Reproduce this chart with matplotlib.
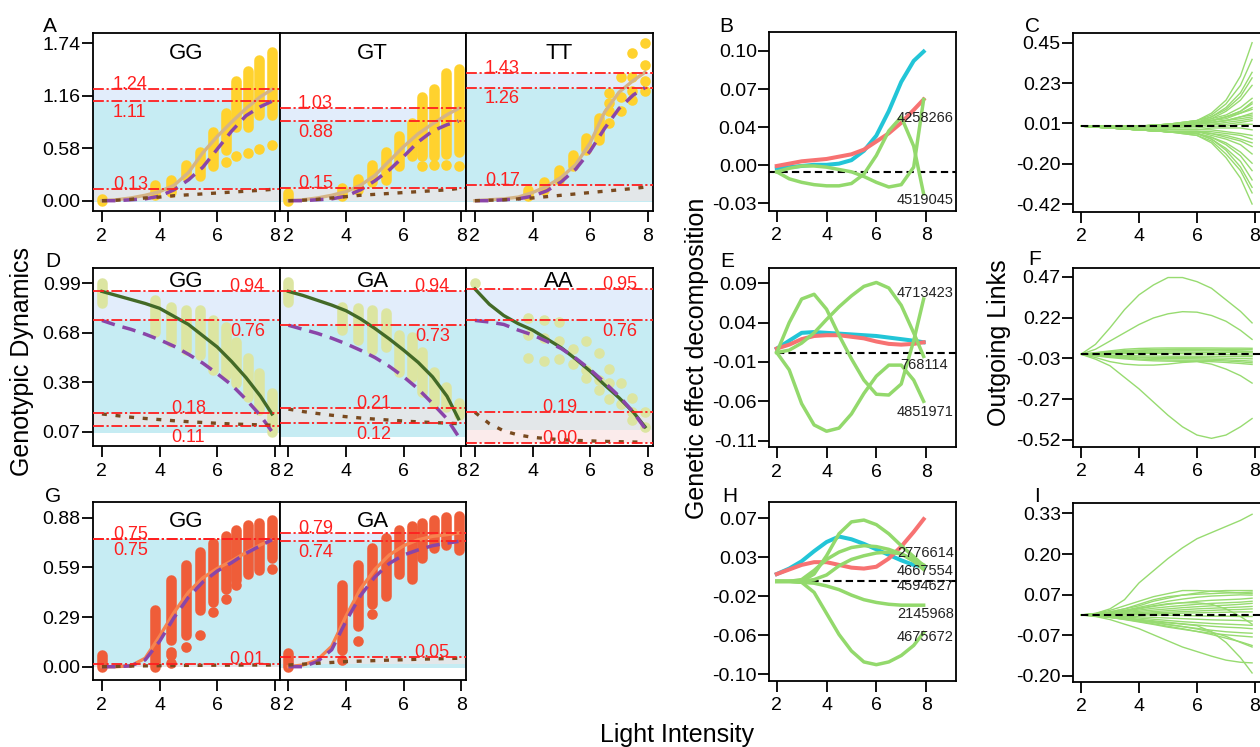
import matplotlib
matplotlib.use('Agg')
import matplotlib.pyplot as plt

plt.rcParams['font.family'] = ['Liberation Sans', 'DejaVu Sans']

W, H = 1260, 747

# light intensity: grid of the fitted curves, measured levels, and grid of the thin link curves
xc = [2.0, 2.5, 3.0, 3.5, 4.0, 4.5, 5.0, 5.5, 6.0, 6.5, 7.0, 7.5, 7.9]
xp = [2.0, 3.85, 4.4, 4.9, 5.4, 5.85, 6.3, 6.65, 7.05, 7.45, 7.9]
xs = [2.0, 3.0, 4.0, 5.0, 6.0, 6.5, 7.0, 7.5, 7.9]

# ---- A : GG / GT / TT ----
a_gg_lo = [0.00, 0.06, 0.10, 0.27, 0.27, 0.38, 0.56, 0.82, 0.82, 0.95, 0.95]
a_gg_hi = [0.02, 0.17, 0.23, 0.40, 0.54, 0.76, 0.97, 1.32, 1.43, 1.56, 1.64]
a_gg_dx = [6.3, 6.65, 7.05, 7.45, 7.9]
a_gg_dy = [0.43, 0.49, 0.53, 0.57, 0.62]
a_gg_tot = [0.0, 0.01, 0.03, 0.06, 0.10, 0.17, 0.31, 0.53, 0.71, 0.87, 1.02, 1.15, 1.23]
a_gg_add = [0.0, 0.0, 0.01, 0.02, 0.05, 0.12, 0.23, 0.37, 0.57, 0.77, 0.94, 1.04, 1.10]
a_gg_dom = [0.0, 0.005, 0.015, 0.03, 0.04, 0.055, 0.065, 0.075, 0.085, 0.095, 0.105, 0.115, 0.125]
a_gg_ref = [1.235, 1.105, 0.13]
a_gg_txt = ['1.24', '1.11', '0.13']

a_gt_lo = [0.00, 0.05, 0.12, 0.21, 0.23, 0.38, 0.49, 0.49, 0.49, 0.52, 0.54]
a_gt_hi = [0.08, 0.14, 0.24, 0.39, 0.54, 0.71, 0.86, 1.15, 1.24, 1.41, 1.46]
a_gt_dx = [6.65, 7.05, 7.45, 7.9]
a_gt_dy = [0.38, 0.39, 0.40, 0.38]
a_gt_tot = [0.0, 0.01, 0.03, 0.06, 0.10, 0.17, 0.28, 0.44, 0.60, 0.74, 0.85, 0.95, 1.02]
a_gt_add = [0.0, 0.0, 0.01, 0.02, 0.05, 0.12, 0.22, 0.34, 0.49, 0.65, 0.77, 0.84, 0.88]
a_gt_dom = [0.0, 0.005, 0.015, 0.03, 0.045, 0.06, 0.07, 0.08, 0.09, 0.10, 0.11, 0.12, 0.135]
a_gt_ref = [1.025, 0.88, 0.145]
a_gt_txt = ['1.03', '0.88', '0.15']

a_tt_lo = [0.00, 0.05, 0.12, 0.23, 0.38, 0.56, 0.67]
a_tt_hi = [0.00, 0.12, 0.21, 0.34, 0.51, 0.69, 0.91]
a_tt_dx = [6.65, 6.65, 6.65, 6.65, 7.05, 7.05, 7.05, 7.45, 7.45, 7.45, 7.45, 7.9, 7.9, 7.9, 7.9]
a_tt_dy = [0.86, 0.99, 1.08, 1.19, 0.99, 1.15, 1.37, 1.11, 1.21, 1.37, 1.63, 1.21, 1.32, 1.50, 1.74]
a_tt_tot = [0.0, 0.01, 0.02, 0.04, 0.09, 0.16, 0.26, 0.40, 0.64, 0.98, 1.20, 1.33, 1.42]
a_tt_add = [0.0, 0.0, 0.01, 0.02, 0.05, 0.11, 0.21, 0.35, 0.55, 0.80, 1.02, 1.17, 1.25]
a_tt_dom = [0.0, 0.005, 0.01, 0.02, 0.03, 0.045, 0.06, 0.075, 0.09, 0.105, 0.12, 0.135, 0.15]
a_tt_ref = [1.415, 1.25, 0.17]
a_tt_txt = ['1.43', '1.26', '0.17']

# ---- D : GG / GA / AA ----
d_gg_lo = [0.866, 0.691, 0.629, 0.577, 0.546, 0.453, 0.422, 0.370, 0.288, 0.205, 0.071]
d_gg_hi = [0.990, 0.887, 0.845, 0.825, 0.825, 0.763, 0.722, 0.629, 0.525, 0.432, 0.308]
d_gg_tot = [0.94, 0.915, 0.89, 0.865, 0.835, 0.785, 0.735, 0.665, 0.595, 0.505, 0.405, 0.29, 0.18]
d_gg_add = [0.76, 0.73, 0.705, 0.675, 0.64, 0.60, 0.55, 0.495, 0.43, 0.36, 0.27, 0.17, 0.07]
d_gg_dom = [0.18, 0.17, 0.16, 0.152, 0.145, 0.138, 0.132, 0.127, 0.122, 0.118, 0.115, 0.112, 0.11]
d_gg_ref = [0.942, 0.76, 0.184, 0.107]
d_gg_txt = ['0.94', '0.76', '0.18', '0.11']

d_ga_lo = [0.876, 0.70, 0.64, 0.577, 0.598, 0.44, 0.41, 0.319, 0.247, 0.226, 0.174]
d_ga_hi = [1.00, 0.845, 0.835, 0.825, 0.804, 0.67, 0.66, 0.567, 0.443, 0.35, 0.247]
d_ga_tot = [0.94, 0.915, 0.885, 0.855, 0.82, 0.77, 0.71, 0.645, 0.575, 0.50, 0.41, 0.29, 0.15]
d_ga_add = [0.73, 0.705, 0.68, 0.65, 0.615, 0.575, 0.53, 0.475, 0.41, 0.335, 0.245, 0.15, 0.04]
d_ga_dom = [0.21, 0.195, 0.183, 0.172, 0.163, 0.155, 0.148, 0.142, 0.136, 0.131, 0.127, 0.123, 0.12]
d_ga_ref = [0.942, 0.733, 0.215, 0.122]
d_ga_txt = ['0.94', '0.73', '0.21', '0.12']

d_aa_dx = [2.0, 3.85, 3.85, 3.85, 4.4, 4.4, 4.4, 4.9, 4.9, 4.9, 5.4, 5.4, 5.85, 5.85, 5.85,
           6.3, 6.3, 6.3, 6.65, 6.65, 6.65, 7.05, 7.05, 7.45, 7.45, 7.45, 7.9, 7.9]
d_aa_dy = [0.99, 0.773, 0.67, 0.53, 0.763, 0.65, 0.51, 0.75, 0.63, 0.52, 0.58, 0.49, 0.63, 0.45, 0.40,
           0.56, 0.39, 0.33, 0.46, 0.37, 0.27, 0.37, 0.24, 0.28, 0.19, 0.14, 0.19, 0.10]
d_aa_tot = [0.955, 0.86, 0.79, 0.74, 0.70, 0.645, 0.59, 0.52, 0.445, 0.36, 0.28, 0.19, 0.10]
d_aa_add = [0.76, 0.75, 0.735, 0.70, 0.67, 0.63, 0.585, 0.525, 0.455, 0.375, 0.29, 0.19, 0.09]
d_aa_dom = [0.19, 0.12, 0.075, 0.05, 0.035, 0.027, 0.02, 0.016, 0.013, 0.01, 0.008, 0.006, 0.005]
d_aa_ref = [0.955, 0.762, 0.19, 0.0]
d_aa_txt = ['0.95', '0.76', '0.19', '0.00']

# ---- G : GG / GA ----
g_gg_lo = [0.0, 0.0, 0.158, 0.19, 0.335, 0.38, 0.46, 0.51, 0.55, 0.57, 0.64]
g_gg_hi = [0.07, 0.335, 0.512, 0.60, 0.68, 0.73, 0.77, 0.81, 0.84, 0.85, 0.865]
g_gg_dx = [4.4, 4.4, 4.4, 4.9, 5.4, 5.85, 6.3, 6.65, 7.9]
g_gg_dy = [0.088, 0.069, 0.02, 0.118, 0.19, 0.325, 0.40, 0.48, 0.58]
g_gg_tot = [0.0, 0.0, 0.005, 0.05, 0.18, 0.32, 0.44, 0.525, 0.58, 0.625, 0.675, 0.72, 0.75]
g_gg_add = [0.0, 0.0, 0.005, 0.04, 0.15, 0.29, 0.41, 0.50, 0.565, 0.615, 0.67, 0.715, 0.75]
g_gg_dom = [0.0, 0.002, 0.004, 0.005, 0.006, 0.007, 0.008, 0.008, 0.009, 0.009, 0.01, 0.01, 0.01]
g_gg_ref = [0.752, 0.752, 0.015]
g_gg_txt = ['0.75', '0.75', '0.01']

g_ga_lo = [0.0, 0.099, 0.24, 0.37, 0.42, 0.55, 0.52, 0.64, 0.70, 0.72, 0.69]
g_ga_hi = [0.08, 0.483, 0.60, 0.70, 0.76, 0.81, 0.83, 0.85, 0.865, 0.885, 0.89]
g_ga_dx = [3.85, 4.4, 4.9]
g_ga_dy = [0.04, 0.152, 0.31]
g_ga_tot = [0.0, 0.01, 0.04, 0.12, 0.30, 0.46, 0.575, 0.66, 0.715, 0.75, 0.77, 0.78, 0.79]
g_ga_add = [0.0, 0.0, 0.03, 0.10, 0.27, 0.42, 0.53, 0.61, 0.66, 0.69, 0.715, 0.73, 0.74]
g_ga_dom = [0.01, 0.015, 0.02, 0.025, 0.03, 0.033, 0.036, 0.039, 0.041, 0.044, 0.046, 0.048, 0.05]
g_ga_ref = [0.79, 0.742, 0.058]
g_ga_txt = ['0.79', '0.74', '0.05']

# ---- B, E, H : genetic effect decomposition ----
b_cyan = [0.003, 0.004, 0.005, 0.006, 0.006, 0.007, 0.010, 0.018, 0.031, 0.052, 0.077, 0.095, 0.103]
b_red = [0.005, 0.007, 0.009, 0.010, 0.011, 0.013, 0.015, 0.019, 0.026, 0.033, 0.042, 0.053, 0.062]
b_snp1 = [0.0, 0.003, 0.005, 0.005, 0.004, 0.002, 0.0, -0.004, -0.009, -0.013, -0.011, 0.004, 0.062]
b_snp2 = [0.0, -0.006, -0.009, -0.011, -0.012, -0.012, -0.010, -0.002, 0.014, 0.035, 0.047, 0.022, -0.019]
b_names = ['4258266', '4519045']
b_name_y = [0.046, -0.024]

e_cyan = [0.005, 0.015, 0.025, 0.026, 0.025, 0.024, 0.023, 0.022, 0.021, 0.019, 0.017, 0.015, 0.013]
e_red = [0.005, 0.010, 0.017, 0.021, 0.022, 0.022, 0.020, 0.018, 0.014, 0.011, 0.010, 0.011, 0.013]
e_snp1 = [0.0, 0.038, 0.068, 0.074, 0.055, 0.022, -0.008, -0.035, -0.053, -0.054, -0.04, 0.015, 0.068]
e_snp2 = [0.0, 0.003, 0.012, 0.025, 0.042, 0.058, 0.072, 0.084, 0.089, 0.082, 0.06, 0.025, -0.005]
e_snp3 = [0.0, -0.022, -0.065, -0.092, -0.10, -0.096, -0.078, -0.052, -0.03, -0.016, -0.016, -0.035, -0.062]
e_names = ['4713423', '768114', '4851971']
e_name_y = [0.075, -0.016, -0.075]

h_cyan = [0.008, 0.014, 0.022, 0.033, 0.043, 0.049, 0.046, 0.041, 0.035, 0.029, 0.023, 0.018, 0.016]
h_red = [0.008, 0.013, 0.018, 0.021, 0.021, 0.018, 0.015, 0.014, 0.016, 0.025, 0.038, 0.054, 0.068]
h_snp1 = [0.0, 0.0, 0.0, 0.008, 0.028, 0.052, 0.065, 0.067, 0.062, 0.052, 0.039, 0.027, 0.017]
h_snp2 = [0.0, 0.0, 0.002, 0.012, 0.024, 0.032, 0.037, 0.039, 0.038, 0.035, 0.03, 0.022, 0.013]
h_snp3 = [0.0, 0.0, 0.0, 0.002, 0.007, 0.017, 0.024, 0.028, 0.031, 0.032, 0.03, 0.024, 0.018]
h_snp4 = [0.0, 0.0, -0.001, -0.002, -0.005, -0.009, -0.015, -0.02, -0.023, -0.025, -0.026, -0.026, -0.026]
h_snp5 = [0.0, 0.0, -0.001, -0.012, -0.035, -0.058, -0.076, -0.088, -0.091, -0.088, -0.081, -0.07, -0.056]
h_names = ['2776614', '4667554', '4594627', '2145968', '4675672']
h_name_y = [0.031, 0.0118, -0.0052, -0.036, -0.061]

# ---- C, F, I : outgoing links ----
c_links = [
    [0, 0.00, 0.00, 0.01, 0.03, 0.07, 0.14, 0.27, 0.45],
    [0, 0.00, 0.00, 0.01, 0.03, 0.06, 0.12, 0.22, 0.36],
    [0, 0.00, 0.00, 0.01, 0.02, 0.05, 0.10, 0.18, 0.29],
    [0, 0.00, 0.00, 0.01, 0.03, 0.05, 0.09, 0.16, 0.26],
    [0, 0.00, 0.00, 0.00, 0.02, 0.04, 0.08, 0.14, 0.22],
    [0, 0.00, 0.00, 0.00, 0.02, 0.04, 0.06, 0.10, 0.15],
    [0, 0.00, 0.00, 0.01, 0.02, 0.03, 0.05, 0.08, 0.13],
    [0, 0.00, 0.00, 0.01, 0.02, 0.03, 0.05, 0.08, 0.12],
    [0, 0.00, 0.00, 0.00, 0.01, 0.03, 0.05, 0.07, 0.10],
    [0, 0.00, 0.00, 0.00, 0.01, 0.03, 0.04, 0.07, 0.09],
    [0, 0.00, 0.00, 0.00, 0.01, 0.02, 0.03, 0.05, 0.07],
    [0, 0.00, 0.00, 0.00, 0.01, 0.02, 0.03, 0.05, 0.06],
    [0, 0.00, 0.00, 0.00, 0.01, 0.02, 0.03, 0.04, 0.05],
    [0, 0.00, 0.00, 0.00, 0.00, 0.01, 0.02, 0.03, 0.04],
    [0, 0.00, -0.01, -0.01, 0.00, 0.01, 0.01, 0.02, 0.03],
    [0, -0.01, -0.01, -0.01, -0.01, 0.00, 0.00, 0.01, 0.01],
    [0, -0.01, -0.02, -0.02, -0.02, -0.01, -0.01, -0.01, -0.02],
    [0, -0.01, -0.02, -0.02, -0.02, -0.02, -0.03, -0.04, -0.05],
    [0, -0.01, -0.02, -0.03, -0.03, -0.03, -0.04, -0.05, -0.07],
    [0, -0.01, -0.02, -0.03, -0.03, -0.04, -0.05, -0.07, -0.09],
    [0, -0.01, -0.02, -0.03, -0.03, -0.04, -0.06, -0.08, -0.11],
    [0, -0.01, -0.02, -0.03, -0.03, -0.05, -0.07, -0.10, -0.15],
    [0, -0.01, -0.02, -0.03, -0.04, -0.06, -0.09, -0.14, -0.20],
    [0, -0.01, -0.02, -0.03, -0.04, -0.06, -0.10, -0.16, -0.24],
    [0, -0.01, -0.02, -0.03, -0.04, -0.07, -0.12, -0.19, -0.29],
    [0, -0.01, -0.02, -0.03, -0.04, -0.07, -0.13, -0.22, -0.33],
    [0, -0.01, -0.02, -0.03, -0.05, -0.08, -0.15, -0.24, -0.36],
    [0, -0.01, -0.02, -0.03, -0.05, -0.09, -0.17, -0.28, -0.42],
]

f_links = [
    [0, 0.06, 0.16, 0.27, 0.36, 0.42, 0.465, 0.465, 0.44, 0.40, 0.33, 0.26, 0.19],
    [0, 0.03, 0.08, 0.13, 0.18, 0.22, 0.245, 0.258, 0.255, 0.235, 0.20, 0.145, 0.09],
    [0, -0.03, -0.07, -0.14, -0.21, -0.29, -0.37, -0.44, -0.49, -0.51, -0.49, -0.44, -0.39],
    [0, -0.02, -0.045, -0.06, -0.066, -0.066, -0.06, -0.05, -0.045, -0.06, -0.09, -0.13, -0.175],
    [0, 0.01, 0.02, 0.03, 0.035, 0.037, 0.038, 0.038, 0.038, 0.038, 0.037, 0.037, 0.036],
    [0, 0.008, 0.015, 0.022, 0.026, 0.028, 0.03, 0.031, 0.031, 0.03, 0.03, 0.029, 0.028],
    [0, 0.005, 0.01, 0.014, 0.017, 0.019, 0.02, 0.021, 0.021, 0.02, 0.019, 0.018, 0.017],
    [0, 0.003, 0.006, 0.009, 0.011, 0.012, 0.013, 0.013, 0.012, 0.011, 0.01, 0.009, 0.008],
    [0, 0.002, 0.003, 0.004, 0.004, 0.004, 0.004, 0.003, 0.002, 0.0, -0.002, -0.004, -0.006],
    [0, -0.003, -0.006, -0.008, -0.01, -0.011, -0.012, -0.012, -0.012, -0.012, -0.013, -0.014, -0.015],
    [0, -0.005, -0.01, -0.014, -0.017, -0.019, -0.02, -0.021, -0.021, -0.022, -0.024, -0.026, -0.028],
    [0, -0.006, -0.012, -0.018, -0.022, -0.025, -0.026, -0.027, -0.028, -0.03, -0.034, -0.038, -0.042],
    [0, -0.008, -0.016, -0.023, -0.029, -0.033, -0.035, -0.036, -0.036, -0.037, -0.041, -0.046, -0.052],
    [0, -0.01, -0.02, -0.028, -0.035, -0.04, -0.042, -0.043, -0.043, -0.045, -0.05, -0.056, -0.062],
    [0, 0.004, 0.01, 0.016, 0.022, 0.026, 0.028, 0.029, 0.028, 0.026, 0.024, 0.02, 0.015],
]

i_links = [
    [0, 0.005, 0.02, 0.05, 0.105, 0.145, 0.185, 0.22, 0.25, 0.27, 0.29, 0.31, 0.33],
    [0, -0.005, -0.015, -0.03, -0.045, -0.065, -0.085, -0.105, -0.12, -0.135, -0.148, -0.155, -0.157],
    [0, -0.003, -0.008, -0.013, -0.018, -0.022, -0.026, -0.03, -0.035, -0.055, -0.09, -0.14, -0.19],
    [0, 0.005, 0.015, 0.03, 0.045, 0.06, 0.07, 0.08, 0.08, 0.078, 0.075, 0.072, 0.07],
    [0, 0.003, 0.01, 0.02, 0.03, 0.045, 0.055, 0.065, 0.072, 0.078, 0.08, 0.08, 0.08],
    [0, 0.003, 0.01, 0.02, 0.035, 0.05, 0.06, 0.065, 0.068, 0.07, 0.072, 0.073, 0.075],
    [0, 0.003, 0.008, 0.015, 0.025, 0.035, 0.045, 0.052, 0.058, 0.062, 0.064, 0.066, 0.065],
    [0, 0.002, 0.006, 0.012, 0.02, 0.028, 0.035, 0.04, 0.045, 0.048, 0.05, 0.052, 0.055],
    [0, 0.002, 0.005, 0.01, 0.016, 0.022, 0.027, 0.031, 0.035, 0.038, 0.04, 0.042, 0.045],
    [0, 0.001, 0.004, 0.008, 0.012, 0.016, 0.02, 0.024, 0.027, 0.03, 0.032, 0.035, 0.038],
    [0, 0.001, 0.003, 0.005, 0.008, 0.011, 0.014, 0.017, 0.02, 0.022, 0.024, 0.026, 0.028],
    [0, 0.001, 0.002, 0.003, 0.005, 0.007, 0.009, 0.011, 0.013, 0.015, 0.017, 0.018, 0.02],
    [0, 0.0, 0.001, 0.002, 0.003, 0.004, 0.005, 0.006, 0.007, 0.008, 0.009, 0.01, 0.01],
    [0, 0.0, 0.0, 0.0, 0.0, 0.0, -0.001, -0.002, -0.003, -0.004, -0.004, -0.005, -0.005],
    [0, -0.001, -0.002, -0.004, -0.006, -0.008, -0.01, -0.012, -0.014, -0.016, -0.017, -0.018, -0.02],
    [0, -0.001, -0.003, -0.006, -0.01, -0.014, -0.018, -0.022, -0.025, -0.028, -0.03, -0.032, -0.034],
    [0, -0.002, -0.005, -0.009, -0.014, -0.019, -0.024, -0.029, -0.033, -0.037, -0.04, -0.042, -0.045],
    [0, -0.002, -0.006, -0.012, -0.018, -0.025, -0.032, -0.038, -0.044, -0.05, -0.055, -0.058, -0.06],
    [0, -0.003, -0.008, -0.015, -0.023, -0.031, -0.04, -0.047, -0.054, -0.06, -0.065, -0.069, -0.072],
    [0, -0.002, -0.006, -0.011, -0.017, -0.024, -0.031, -0.038, -0.046, -0.056, -0.07, -0.09, -0.105],
    [0, -0.003, -0.008, -0.014, -0.021, -0.029, -0.037, -0.045, -0.054, -0.064, -0.076, -0.088, -0.1],
    [0, 0.002, 0.007, 0.014, 0.022, 0.03, 0.037, 0.04, 0.04, 0.035, 0.02, -0.005, -0.03],
]

# ---- styles ----
CYAN_BG, LAV_BG, GREY_BG, PINK_BG = '#C6ECF3', '#E2EDFB', '#E3E7E9', '#FBEBEB'
RED = '#FF1F1F'
REF_LS = (0, (6, 1.5, 1.2, 1.5))
DASH = (0, (3.5, 2))
PURPLE, BROWN = '#8A45A8', '#7A4A1F'
LINK_GREEN = '#97DB70'
SNP_GREEN = '#93D96C'


def add_box(l, t, r, b):
    return fig.add_axes([l / W, 1 - b / H, (r - l) / W, (b - t) / H])


def frame(ax, xlim, ylim, yticks=None, ylabels=None):
    ax.set_xlim(xlim)
    ax.set_ylim(ylim)
    ax.set_xticks([2, 4, 6, 8])
    ax.set_xticklabels(['2', '4', '6', '8'])
    if yticks is None:
        ax.tick_params(axis='y', left=False, labelleft=False)
    else:
        ax.set_yticks(yticks)
        ax.set_yticklabels(ylabels)
    ax.tick_params(axis='x', length=8, width=1.3, pad=4, labelsize=14)
    ax.tick_params(axis='y', length=8, width=1.3, pad=1, labelsize=14)
    for s in ax.spines.values():
        s.set_linewidth(1.3)


def genotype(ax, title, title_y, shades, lo, hi, dx, dy, pcolor,
             tot, tot_color, add, dom, refs, texts, spots):
    for a, b, c in shades:
        ax.axhspan(a, b, color=c, lw=0, zorder=0)
    for x, a, b in zip(xp, lo, hi):
        ax.plot([x, x], [a, b], color=pcolor, lw=7.6, solid_capstyle='round', zorder=2)
    ax.plot(dx, dy, 'o', color=pcolor, ms=7.6, mew=0, zorder=2)
    ax.plot(xc, tot, color=tot_color, lw=2.4, zorder=3)
    ax.plot(xc, add, color=PURPLE, lw=2.5, ls=(0, (3.9, 2.3)), zorder=3)
    ax.plot(xc, dom, color=BROWN, lw=2.4, ls=(0, (1.5, 2.6)), zorder=3)
    for v in refs:
        ax.axhline(v, color=RED, lw=1.3, ls=REF_LS, zorder=4)
    for v, t, (x, ha, where) in zip(refs, texts, spots):
        if where == 'above':
            ax.annotate(t, (x, v), xytext=(0, 0), textcoords='offset points',
                        ha=ha, va='baseline', color=RED, fontsize=13, zorder=5)
        else:
            ax.annotate(t, (x, v), xytext=(0, -2), textcoords='offset points',
                        ha=ha, va='top', color=RED, fontsize=13, zorder=5)
    ax.text(0.5, title_y, title, transform=ax.transAxes, ha='center', va='center',
            fontsize=16, zorder=6)


def effects(ax, cyan, red, snps, names, name_y, name_x, dash_from):
    ax.hlines(0, dash_from, 9.3, color='black', lw=1.5, linestyles=[DASH], zorder=2)
    ax.plot(xc, cyan, color='#22C5D7', lw=2.9, zorder=3)
    ax.plot(xc, red, color='#F77272', lw=2.9, zorder=3)
    for s in snps:
        ax.plot(xc, s, color=SNP_GREEN, lw=2.5, zorder=4)
    for n, y, x in zip(names, name_y, name_x):
        ax.text(x, y, n, fontsize=10.5, ha='left', va='center', color='#222222', zorder=5)


def links(ax, xx, curves):
    for c in curves:
        ax.plot(xx, c, color=LINK_GREEN, lw=1.0, zorder=2)
    ax.hlines(0, 2, 8.3, color='black', lw=1.5, linestyles=[DASH], zorder=3)


fig = plt.figure(figsize=(12.6, 7.47), dpi=100)

ax_lim = (1.69, 8.16)
a_yt, a_yl = [0, 0.58, 1.16, 1.74], ['0.00', '0.58', '1.16', '1.74']
d_yt, d_yl = [0.07, 0.3767, 0.6833, 0.99], ['0.07', '0.38', '0.68', '0.99']
g_yt, g_yl = [0, 0.2933, 0.5867, 0.88], ['0.00', '0.29', '0.59', '0.88']
cols = [(93, 279.5), (279.5, 466), (466, 652.5)]

GOLD, TAN = '#FFD22E', '#D5B486'
PALE, OLIVE = '#DCE5A1', '#436A27'
ORANGE_P, ORANGE_L = '#EF5D39', '#F7834F'

# row A
ax = add_box(cols[0][0], 33, cols[0][1], 211)
genotype(ax, 'GG', 0.885,
         [(-0.02, 1.105, CYAN_BG), (1.105, 1.235, LAV_BG), (-0.005, 0.13, GREY_BG)],
         a_gg_lo, a_gg_hi, a_gg_dx, a_gg_dy, GOLD, a_gg_tot, TAN, a_gg_add, a_gg_dom,
         a_gg_ref, a_gg_txt, [(2.38, 'left', 'above'), (2.38, 'left', 'below'), (2.38, 'left', 'above')])
frame(ax, ax_lim, (-0.114, 1.854), a_yt, a_yl)
ax = add_box(cols[1][0], 33, cols[1][1], 211)
genotype(ax, 'GT', 0.885,
         [(-0.02, 0.88, CYAN_BG), (0.88, 1.025, LAV_BG), (-0.005, 0.145, GREY_BG)],
         a_gt_lo, a_gt_hi, a_gt_dx, a_gt_dy, GOLD, a_gt_tot, TAN, a_gt_add, a_gt_dom,
         a_gt_ref, a_gt_txt, [(2.33, 'left', 'above'), (2.33, 'left', 'below'), (2.33, 'left', 'above')])
frame(ax, ax_lim, (-0.114, 1.854))
ax = add_box(cols[2][0], 33, cols[2][1], 211)
genotype(ax, 'TT', 0.886,
         [(-0.02, 1.25, CYAN_BG), (1.25, 1.415, LAV_BG), (-0.005, 0.17, GREY_BG)],
         a_tt_lo, a_tt_hi, a_tt_dx, a_tt_dy, GOLD, a_tt_tot, TAN, a_tt_add, a_tt_dom,
         a_tt_ref, a_tt_txt, [(2.35, 'left', 'above'), (2.35, 'left', 'below'), (2.35, 'left', 'above')])
frame(ax, ax_lim, (-0.114, 1.854))

# row D
ax = add_box(cols[0][0], 268, cols[0][1], 446)
genotype(ax, 'GG', 0.923,
         [(0.06, 0.76, CYAN_BG), (0.76, 0.942, LAV_BG), (0.107, 0.184, GREY_BG)],
         d_gg_lo, d_gg_hi, [], [], PALE, d_gg_tot, OLIVE, d_gg_add, d_gg_dom,
         d_gg_ref, d_gg_txt, [(7.65, 'right', 'above'), (7.65, 'right', 'below'),
                              (5.0, 'center', 'above'), (5.0, 'center', 'below')])
frame(ax, ax_lim, (-0.0187, 1.085), d_yt, d_yl)
ax = add_box(cols[1][0], 268, cols[1][1], 446)
genotype(ax, 'GA', 0.923,
         [(0.04, 0.733, CYAN_BG), (0.733, 0.942, LAV_BG), (0.13, 0.215, GREY_BG)],
         d_ga_lo, d_ga_hi, [], [], PALE, d_ga_tot, OLIVE, d_ga_add, d_ga_dom,
         d_ga_ref, d_ga_txt, [(7.6, 'right', 'above'), (7.6, 'right', 'below'),
                              (4.95, 'center', 'above'), (4.95, 'center', 'below')])
frame(ax, ax_lim, (-0.0187, 1.085))
ax = add_box(cols[2][0], 268, cols[2][1], 446)
genotype(ax, 'AA', 0.923,
         [(0.19, 0.762, CYAN_BG), (0.762, 0.955, LAV_BG), (0.08, 0.19, GREY_BG), (0.0, 0.08, PINK_BG)],
         [], [], d_aa_dx, d_aa_dy, PALE, d_aa_tot, OLIVE, d_aa_add, d_aa_dom,
         d_aa_ref, d_aa_txt, [(7.62, 'right', 'above'), (7.62, 'right', 'below'),
                              (4.95, 'center', 'above'), (4.95, 'center', 'above')])
frame(ax, ax_lim, (-0.0187, 1.085))

# row G
ax = add_box(cols[0][0], 502, cols[0][1], 680)
genotype(ax, 'GG', 0.889,
         [(0.01, 0.752, CYAN_BG), (0.0, 0.015, GREY_BG)],
         g_gg_lo, g_gg_hi, g_gg_dx, g_gg_dy, ORANGE_P, g_gg_tot, ORANGE_L, g_gg_add, g_gg_dom,
         g_gg_ref, g_gg_txt, [(2.38, 'left', 'above'), (2.38, 'left', 'below'), (7.65, 'right', 'above')])
frame(ax, ax_lim, (-0.0786, 0.973), g_yt, g_yl)
ax = add_box(cols[1][0], 502, cols[1][1], 680)
genotype(ax, 'GA', 0.889,
         [(-0.005, 0.742, CYAN_BG), (0.742, 0.79, LAV_BG), (0.013, 0.058, GREY_BG)],
         g_ga_lo, g_ga_hi, g_ga_dx, g_ga_dy, ORANGE_P, g_ga_tot, ORANGE_L, g_ga_add, g_ga_dom,
         g_ga_ref, g_ga_txt, [(2.33, 'left', 'above'), (2.33, 'left', 'below'), (7.6, 'right', 'above')])
frame(ax, ax_lim, (-0.0786, 0.973))

# B, E, H
mid_lim = (1.70, 9.2)
ax = add_box(769.3, 32.3, 956, 210.7)
effects(ax, b_cyan, b_red, [b_snp1, b_snp2], b_names, b_name_y, [6.82, 6.82], 1.7)
frame(ax, mid_lim, (-0.0333, 0.1195), [-0.027, 0.005625, 0.03825, 0.070875, 0.1035],
      ['-0.03', '0.00', '0.04', '0.07', '0.10'])
ax = add_box(769.3, 268.3, 956, 447.3)
effects(ax, e_cyan, e_red, [e_snp1, e_snp2, e_snp3], e_names, e_name_y, [6.82, 6.95, 6.82], 2.0)
frame(ax, mid_lim, (-0.1204, 0.107), [-0.112, -0.062, -0.012, 0.038, 0.088],
      ['-0.11', '-0.06', '-0.01', '0.04', '0.09'])
ax = add_box(769.3, 502.3, 956, 680.7)
effects(ax, h_cyan, h_red, [h_snp1, h_snp2, h_snp3, h_snp4, h_snp5], h_names, h_name_y, [6.82] * 5, 2.0)
frame(ax, mid_lim, (-0.1085, 0.0864), [-0.1012, -0.0587, -0.0162, 0.0264, 0.0689],
      ['-0.10', '-0.06', '-0.02', '0.03', '0.07'])

# C, F, I
right_lim = (1.735, 8.28)
ax = add_box(1073.3, 33.3, 1263.1, 211.7)
links(ax, xs, c_links)
frame(ax, right_lim, (-0.4615, 0.5007), [-0.42, -0.2025, 0.015, 0.2325, 0.45],
      ['-0.42', '-0.20', '0.01', '0.23', '0.45'])
ax = add_box(1073.3, 268.3, 1263.1, 446.7)
links(ax, xc, f_links)
frame(ax, right_lim, (-0.5607, 0.521), [-0.52, -0.2725, -0.025, 0.2225, 0.47],
      ['-0.52', '-0.27', '-0.03', '0.22', '0.47'])
ax = add_box(1073.3, 503.3, 1263.1, 681.7)
links(ax, xc, i_links)
frame(ax, right_lim, (-0.2187, 0.366), [-0.2, -0.06675, 0.0665, 0.19975, 0.333],
      ['-0.20', '-0.07', '0.07', '0.20', '0.33'])

# panel letters
for letter, x, y in [('A', 43, 32), ('D', 45, 267), ('G', 45, 502),
                     ('B', 719, 32), ('E', 720, 267), ('H', 722, 502),
                     ('C', 1025, 32), ('F', 1028, 265), ('I', 1034, 502)]:
    fig.text(x / W, 1 - y / H, letter, fontsize=15, ha='left', va='baseline')

fig.text(22 / W, 1 - 361 / H, 'Genotypic Dynamics', rotation=90, ha='center', va='center', fontsize=18)
fig.text(697 / W, 1 - 358 / H, 'Genetic effect decomposition', rotation=90, ha='center', va='center', fontsize=18)
fig.text(999 / W, 1 - 343 / H, 'Outgoing Links', rotation=90, ha='center', va='center', fontsize=18)
fig.text(677 / W, 1 - 735 / H, 'Light Intensity', ha='center', va='center', fontsize=18)

fig.savefig('out.png', dpi=100)
